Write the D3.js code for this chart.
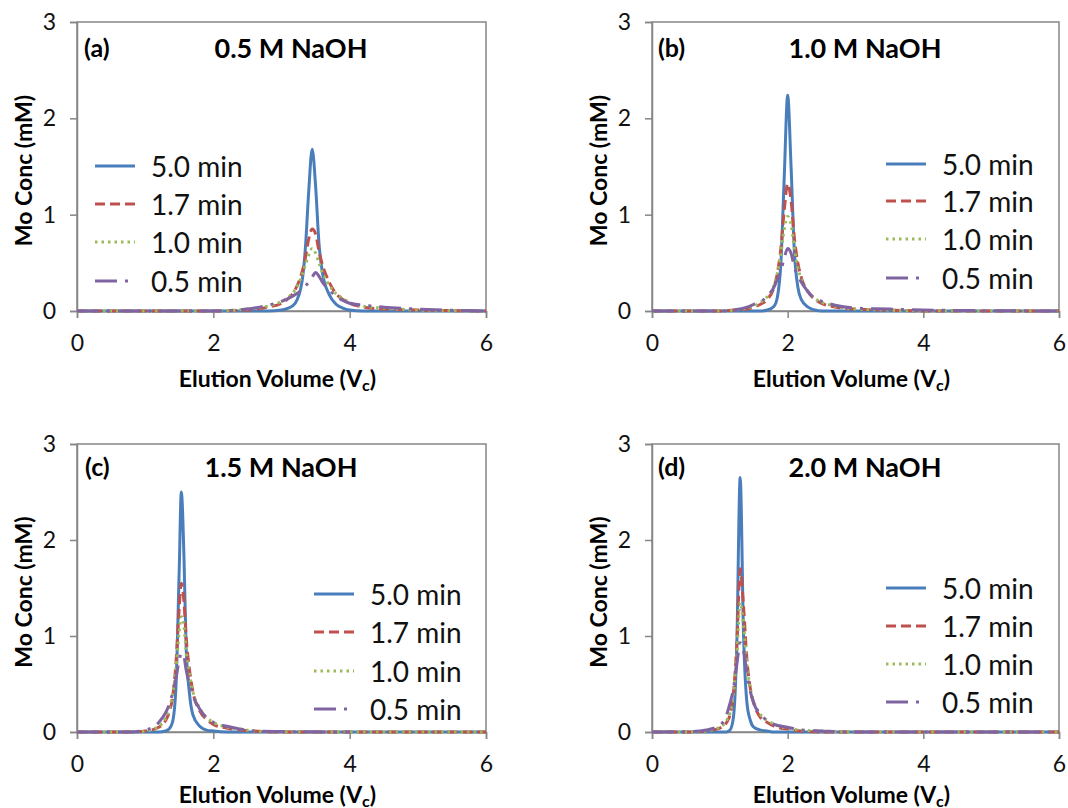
<!DOCTYPE html>
<html>
<head>
<meta charset="utf-8">
<script src="https://cdn.jsdelivr.net/npm/d3@7"></script>
<style>
  body { margin: 0; background: #fff; }
  svg { display: block; font-family: Lato, "Open Sans", sans-serif; }
</style>
</head>
<body>
<svg id="chart" width="1068" height="808"></svg>
<script>
// ---------- DATA ----------
const seriesNames = ["5.0 min", "1.7 min", "1.0 min", "0.5 min"];
const panelLabels = ["(a)", "(b)", "(c)", "(d)"];
const panelTitles = ["0.5 M NaOH", "1.0 M NaOH", "1.5 M NaOH", "2.0 M NaOH"];
const xTicks = [0, 2, 4, 6];
const yTicks = [0, 1, 2, 3];

// (a) 0.5 M NaOH
const volA = [0, 1, 2, 2.5, 2.8, 3.0, 3.1, 3.2, 3.3, 3.35, 3.4, 3.45, 3.5, 3.55, 3.6, 3.7, 3.8, 3.9, 4.0, 4.2, 4.5, 5, 6];
const concA_50 = [0, 0, 0, 0, 0, 0.01, 0.03, 0.08, 0.3, 0.65, 1.25, 1.68, 1.3, 0.7, 0.4, 0.17, 0.07, 0.03, 0.01, 0, 0, 0, 0];
const concA_17 = [0, 0, 0, 0.01, 0.04, 0.08, 0.13, 0.22, 0.4, 0.55, 0.75, 0.85, 0.8, 0.62, 0.48, 0.3, 0.18, 0.12, 0.08, 0.04, 0.02, 0.01, 0];
const concA_10 = [0, 0, 0, 0.02, 0.05, 0.1, 0.14, 0.22, 0.37, 0.48, 0.58, 0.65, 0.6, 0.5, 0.4, 0.27, 0.18, 0.13, 0.09, 0.05, 0.03, 0.01, 0];
const concA_05 = [0, 0, 0, 0.02, 0.06, 0.1, 0.13, 0.17, 0.22, 0.26, 0.3, 0.35, 0.4, 0.36, 0.3, 0.22, 0.15, 0.11, 0.08, 0.06, 0.04, 0.02, 0];

// (b) 1.0 M NaOH
const volB = [0, 1, 1.2, 1.4, 1.5, 1.6, 1.7, 1.8, 1.85, 1.9, 1.95, 2.0, 2.05, 2.1, 2.15, 2.2, 2.3, 2.4, 2.5, 2.7, 3.0, 3.5, 4, 6];
const concB_50 = [0, 0, 0, 0, 0, 0, 0.01, 0.05, 0.15, 0.5, 1.4, 2.24, 1.5, 0.6, 0.25, 0.12, 0.04, 0.01, 0, 0, 0, 0, 0, 0];
const concB_17 = [0, 0, 0.01, 0.02, 0.04, 0.07, 0.12, 0.25, 0.4, 0.65, 1.05, 1.32, 1.15, 0.75, 0.5, 0.35, 0.2, 0.12, 0.08, 0.04, 0.02, 0.01, 0, 0];
const concB_10 = [0, 0, 0.01, 0.03, 0.05, 0.09, 0.15, 0.27, 0.4, 0.6, 0.85, 0.98, 0.9, 0.65, 0.45, 0.33, 0.2, 0.13, 0.09, 0.05, 0.02, 0.01, 0, 0];
const concB_05 = [0, 0, 0.01, 0.04, 0.07, 0.1, 0.15, 0.25, 0.33, 0.42, 0.55, 0.65, 0.6, 0.45, 0.37, 0.3, 0.2, 0.13, 0.1, 0.06, 0.03, 0.02, 0.01, 0];

// (c) 1.5 M NaOH
const volC = [0, 0.8, 1.0, 1.2, 1.3, 1.35, 1.4, 1.45, 1.5, 1.53, 1.57, 1.6, 1.65, 1.7, 1.8, 1.9, 2.0, 2.2, 2.4, 2.6, 3, 4, 5, 6];
const concC_50 = [0, 0, 0, 0, 0.01, 0.03, 0.1, 0.45, 1.7, 2.5, 1.8, 0.9, 0.4, 0.18, 0.06, 0.02, 0.01, 0, 0, 0, 0, 0, 0, 0];
const concC_17 = [0, 0, 0.01, 0.05, 0.12, 0.2, 0.35, 0.7, 1.3, 1.55, 1.35, 1.0, 0.65, 0.42, 0.22, 0.13, 0.08, 0.04, 0.02, 0.01, 0, 0, 0, 0];
const concC_10 = [0, 0, 0.01, 0.06, 0.14, 0.23, 0.38, 0.65, 1.05, 1.2, 1.1, 0.85, 0.6, 0.42, 0.25, 0.15, 0.1, 0.05, 0.03, 0.01, 0, 0, 0, 0];
const concC_05 = [0, 0, 0.02, 0.1, 0.2, 0.28, 0.4, 0.55, 0.75, 0.82, 0.78, 0.65, 0.5, 0.38, 0.24, 0.15, 0.1, 0.06, 0.03, 0.01, 0.005, 0, null, null];

// (d) 2.0 M NaOH
const volD = [0, 0.6, 0.8, 1.0, 1.1, 1.15, 1.2, 1.25, 1.3, 1.35, 1.4, 1.45, 1.5, 1.6, 1.7, 1.8, 2.0, 2.2, 2.5, 3, 4, 6];
const concD_50 = [0, 0, 0, 0, 0, 0.02, 0.15, 0.9, 2.65, 1.0, 0.3, 0.12, 0.05, 0.02, 0.01, 0, 0, 0, 0, 0, 0, 0];
const concD_17 = [0, 0, 0.01, 0.04, 0.1, 0.18, 0.4, 0.9, 1.7, 1.3, 0.75, 0.45, 0.3, 0.15, 0.1, 0.06, 0.03, 0.01, 0, 0, 0, 0];
const concD_10 = [0, 0, 0.01, 0.05, 0.12, 0.2, 0.4, 0.8, 1.35, 1.1, 0.7, 0.45, 0.32, 0.18, 0.12, 0.08, 0.04, 0.02, 0.01, 0, 0, 0];
const concD_05 = [0, 0.005, 0.02, 0.07, 0.18, 0.3, 0.45, 0.7, 0.93, 0.85, 0.6, 0.42, 0.3, 0.18, 0.12, 0.08, 0.05, 0.02, 0.01, 0, 0, 0];

const panelData = [
  { vol: volA, series: [concA_50, concA_17, concA_10, concA_05] },
  { vol: volB, series: [concB_50, concB_17, concB_10, concB_05] },
  { vol: volC, series: [concC_50, concC_17, concC_10, concC_05] },
  { vol: volD, series: [concD_50, concD_17, concD_10, concD_05] }
];

// ---------- STYLE / LAYOUT ----------
const colors = ["#4a7ebb", "#c0504d", "#9bbb59", "#8064a2"];
const dashes = [null, "10,5", "2.5,4", "22,8,3,8"];
const axisColor = "#868686";

const layout = [
  { x0: 77,  x1: 486,  y0: 22,  y1: 311, labelX: 84,  titleX: 291, titleY: 47,  legX: 95,  legY: [166, 204, 242, 281], xtOff: 67 },
  { x0: 652, x1: 1059, y0: 22,  y1: 311, labelX: 658, titleX: 865, titleY: 47,  legX: 886, legY: [164, 201, 239, 278], xtOff: 67 },
  { x0: 77,  x1: 486,  y0: 444, y1: 732, labelX: 85,  titleX: 281, titleY: 466, legX: 314, legY: [594, 632, 671, 709], xtOff: 62 },
  { x0: 652, x1: 1059, y0: 444, y1: 732, labelX: 658, titleX: 865, titleY: 466, legX: 886, legY: [588, 626, 664, 702], xtOff: 62 }
];

const svg = d3.select("#chart");

layout.forEach((L, i) => {
  const g = svg.append("g");
  const x = d3.scaleLinear().domain([0, 6]).range([L.x0, L.x1]);
  const y = d3.scaleLinear().domain([0, 3]).range([L.y1, L.y0]);

  // plot border
  g.append("rect")
    .attr("x", L.x0).attr("y", L.y0)
    .attr("width", L.x1 - L.x0).attr("height", L.y1 - L.y0)
    .attr("fill", "none").attr("stroke", axisColor).attr("stroke-width", 1.5);

  // axes
  const xAxis = d3.axisBottom(x).tickValues(xTicks).tickSize(7).tickPadding(17).tickFormat(d3.format("d"));
  const yAxis = d3.axisLeft(y).tickValues(yTicks).tickSize(7).tickPadding(14).tickFormat(d3.format("d"));

  const gx = g.append("g").attr("transform", `translate(0,${L.y1})`).call(xAxis);
  const gy = g.append("g").attr("transform", `translate(${L.x0},0)`).call(yAxis);
  [gx, gy].forEach(a => {
    a.select(".domain").attr("stroke", axisColor).attr("stroke-width", 1.5);
    a.selectAll(".tick line").attr("stroke", axisColor).attr("stroke-width", 1.5);
    a.selectAll(".tick text").attr("fill", "#111").style("font-size", "23px").style("font-family", "Lato, sans-serif");
  });

  // series
  const pd = panelData[i];
  pd.series.forEach((vals, s) => {
    const pts = pd.vol.map((v, k) => ({ v: v, c: vals[k] }));
    const line = d3.line()
      .defined(d => d.c !== null && d.c !== undefined)
      .x(d => x(d.v)).y(d => y(d.c))
      .curve(d3.curveMonotoneX);
    g.append("path")
      .datum(pts)
      .attr("d", line)
      .attr("fill", "none")
      .attr("stroke", colors[s])
      .attr("stroke-width", 3)
      .attr("stroke-linejoin", "round")
      .attr("stroke-dasharray", dashes[s]);
  });

  // panel label and title
  g.append("text").attr("x", L.labelX).attr("y", L.titleY)
    .attr("dominant-baseline", "central")
    .style("font-size", "25px").style("font-weight", "bold").text(panelLabels[i]);
  g.append("text").attr("x", L.titleX).attr("y", L.titleY)
    .attr("text-anchor", "middle").attr("dominant-baseline", "central")
    .style("font-size", "27px").style("font-weight", "bold").text(panelTitles[i]);

  // axis titles
  const xt = g.append("text")
    .attr("x", (L.x0 + L.x1) / 2 - 4).attr("y", L.y1 + L.xtOff)
    .attr("text-anchor", "middle").attr("dominant-baseline", "central")
    .style("font-size", "23px").style("font-weight", "bold");
  xt.append("tspan").text("Elution Volume (V");
  xt.append("tspan").attr("dy", 6).style("font-size", "16px").text("c");
  xt.append("tspan").attr("dy", -6).text(")");

  g.append("text")
    .attr("transform", `translate(${L.x0 - 54},${(L.y0 + L.y1) / 2 + 4}) rotate(-90)`)
    .attr("text-anchor", "middle").attr("dominant-baseline", "central")
    .style("font-size", "23px").style("font-weight", "bold")
    .text("Mo Conc (mM)");

  // legend
  seriesNames.forEach((name, s) => {
    const ly = L.legY[s];
    g.append("line")
      .attr("x1", L.legX).attr("x2", L.legX + 40)
      .attr("y1", ly).attr("y2", ly)
      .attr("stroke", colors[s]).attr("stroke-width", 3)
      .attr("stroke-dasharray", dashes[s]);
    g.append("text")
      .attr("x", L.legX + 56).attr("y", ly)
      .attr("dominant-baseline", "central")
      .style("font-size", "28px").attr("fill", "#111")
      .text(name);
  });
});
</script>
</body>
</html>
